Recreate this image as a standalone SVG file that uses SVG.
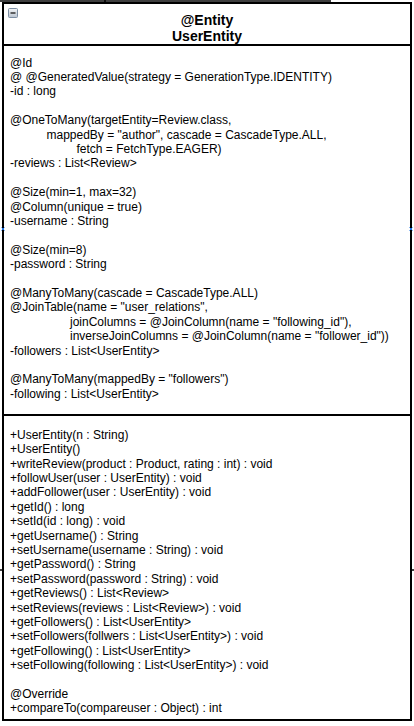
<svg xmlns="http://www.w3.org/2000/svg" width="414" height="726" viewBox="0 0 414 726">
<style>
.t{font-family:"Liberation Sans",Arial,sans-serif;font-size:12px;fill:#000}
.h{font-family:"Liberation Sans",Arial,sans-serif;font-size:14px;font-weight:bold;fill:#000;text-anchor:middle}
.b{fill:none;stroke:#000;stroke-width:2}
.box{fill:#fff;stroke:#000;stroke-width:2}
.e{fill:none;stroke:#000;stroke-width:1.5}
.m{fill:none;stroke:#1a73e8;stroke-width:1}
</style>
<defs>
<linearGradient id="ig" x1="0" y1="0" x2="0" y2="1">
<stop offset="0" stop-color="#f4f6f8"/>
<stop offset="1" stop-color="#b9c3cf"/>
</linearGradient>
</defs>
<rect width="414" height="726" fill="#fff"/>
<g id="connectors">
<path class="e" d="M0 1 H331 M105 0 V4"/>
<path class="e" d="M0 570 H414"/>
</g>
<g id="UserEntity">
<rect x="3" y="3" width="408" height="717" class="box"/>
<line x1="3" y1="45" x2="411" y2="45" class="b"/>
<line x1="3" y1="415" x2="411" y2="415" class="b"/>
<rect x="8.5" y="8.5" width="9" height="9" rx="1" fill="url(#ig)" stroke="#7d8ea3" stroke-width="1"/>
<line x1="10.5" y1="13" x2="15.5" y2="13" stroke="#333" stroke-width="1.5"/>
<text class="h" x="207" y="24.5">@Entity</text>
<text class="h" x="207" y="41.3">UserEntity</text>
<g class="t">
<text x="10" y="66.5">@Id</text>
<text x="10" y="80.9">@ @GeneratedValue(strategy = GenerationType.IDENTITY)</text>
<text x="10" y="95.3">-id : long</text>
<text x="10" y="124.1">@OneToMany(targetEntity=Review.class,</text>
<text x="46.5" y="138.5">mappedBy = "author", cascade = CascadeType.ALL,</text>
<text x="76.5" y="152.9">fetch = FetchType.EAGER)</text>
<text x="10" y="167.3">-reviews : List&lt;Review&gt;</text>
<text x="10" y="196.1">@Size(min=1, max=32)</text>
<text x="10" y="210.5">@Column(unique = true)</text>
<text x="10" y="224.9">-username : String</text>
<text x="10" y="253.7">@Size(min=8)</text>
<text x="10" y="268.1">-password : String</text>
<text x="10" y="296.9">@ManyToMany(cascade = CascadeType.ALL)</text>
<text x="10" y="311.3">@JoinTable(name = "user_relations",</text>
<text x="70" y="325.7">joinColumns = @JoinColumn(name = "following_id"),</text>
<text x="70" y="340.1">inverseJoinColumns = @JoinColumn(name = "follower_id"))</text>
<text x="10" y="354.5">-followers : List&lt;UserEntity&gt;</text>
<text x="10" y="383.3">@ManyToMany(mappedBy = "followers")</text>
<text x="10" y="397.7">-following : List&lt;UserEntity&gt;</text>
<text x="10" y="438.8">+UserEntity(n : String)</text>
<text x="10" y="453.2">+UserEntity()</text>
<text x="10" y="467.6">+writeReview(product : Product, rating : int) : void</text>
<text x="10" y="482">+followUser(user : UserEntity) : void</text>
<text x="10" y="496.4">+addFollower(user : UserEntity) : void</text>
<text x="10" y="510.8">+getId() : long</text>
<text x="10" y="525.2">+setId(id : long) : void</text>
<text x="10" y="539.6">+getUsername() : String</text>
<text x="10" y="554">+setUsername(username : String) : void</text>
<text x="10" y="568.4">+getPassword() : String</text>
<text x="10" y="582.8">+setPassword(password : String) : void</text>
<text x="10" y="597.2">+getReviews() : List&lt;Review&gt;</text>
<text x="10" y="611.6">+setReviews(reviews : List&lt;Review&gt;) : void</text>
<text x="10" y="626">+getFollowers() : List&lt;UserEntity&gt;</text>
<text x="10" y="640.4">+setFollowers(follwers : List&lt;UserEntity&gt;) : void</text>
<text x="10" y="654.8">+getFollowing() : List&lt;UserEntity&gt;</text>
<text x="10" y="669.2">+setFollowing(following : List&lt;UserEntity&gt;) : void</text>
<text x="10" y="698">@Override</text>
<text x="10" y="712.4">+compareTo(compareuser : Object) : int</text>
</g>
<path class="m" d="M1.5 227.5 l3 3 m0 -3 l-3 3 M409.5 227.5 l3 3 m0 -3 l-3 3"/>
</g>
</svg>
